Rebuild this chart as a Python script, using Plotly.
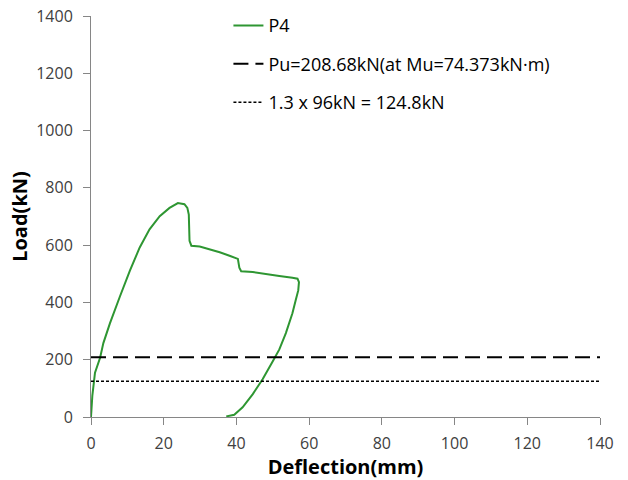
import plotly.graph_objects as go

# P4 load-deflection curve
p4_deflection = [0, 0.37, 1.1, 2.5, 3.4, 5.2, 7.9, 10.7, 13.4, 16.1, 18.9, 21.6, 23.9, 25.7,
                 26.5, 26.9, 27.1, 27.6, 29.9, 32.6, 35.4, 38.1, 40.4, 40.8, 41.3, 44.5, 48.1,
                 51.8, 55.4, 56.8, 57.2, 57.0, 56.3, 55.4, 53.6, 51.8, 50.0, 47.2, 44.5, 41.7,
                 39.4, 37.2]
p4_load = [0, 75, 155, 207, 258, 327, 419, 511, 592, 655, 701, 730, 747, 743,
           730, 707, 615, 598, 595, 586, 575, 563, 552, 521, 509, 506, 498,
           492, 486, 483, 471, 442, 408, 362, 293, 236, 195, 132, 80, 34,
           8, 2]

ref_x = [0, 140]
pu_value = 208.68
design_value = 124.8

series_names = ["P4", "Pu=208.68kN(at Mu=74.373kN·m)", "1.3 x 96kN = 124.8kN"]

x_ticks = [0, 20, 40, 60, 80, 100, 120, 140]
y_ticks = [0, 200, 400, 600, 800, 1000, 1200, 1400]

font_family = "Open Sans, Liberation Sans, sans-serif"

fig = go.Figure()
fig.add_trace(go.Scatter(x=p4_deflection, y=p4_load, mode="lines", name=series_names[0],
                         line=dict(color="#2E9632", width=2), legendgroup="a"))
fig.add_trace(go.Scatter(x=ref_x, y=[pu_value, pu_value], mode="lines", name=series_names[1],
                         line=dict(color="black", width=2, dash="15px,7px"), legendgroup="b"))
fig.add_trace(go.Scatter(x=ref_x, y=[design_value, design_value], mode="lines", name=series_names[2],
                         line=dict(color="black", width=1.6, dash="3px,2px"), legendgroup="c"))

axis_common = dict(showline=True, linecolor="#868686", linewidth=1, ticks="outside",
                   ticklen=7, tickcolor="#868686", showgrid=False, zeroline=False,
                   automargin=False, ticklabeloverflow="allow",
                   tickfont=dict(size=16, color="#404040", family=font_family))

fig.update_xaxes(range=[0, 140], tickvals=x_ticks, ticktext=[str(v) for v in x_ticks],
                 ticklabelstandoff=5,
                 title=dict(text="<b>Deflection(mm)</b>", font=dict(size=20, color="black", family=font_family),
                            standoff=6),
                 **axis_common)
fig.update_yaxes(range=[0, 1400], tickvals=y_ticks, ticktext=[str(v) for v in y_ticks],
                 ticklabelstandoff=7,
                 title=dict(text="<b>Load(kN)</b>", font=dict(size=20, color="black", family=font_family),
                            standoff=3),
                 **axis_common)

fig.update_layout(
    width=628, height=480,
    margin=dict(l=91, r=28, t=16, b=63, autoexpand=False),
    paper_bgcolor="white", plot_bgcolor="white",
    font=dict(family=font_family),
    legend=dict(x=0.27, y=1.022, xanchor="left", yanchor="top",
                font=dict(size=18, color="black", family=font_family),
                bgcolor="rgba(0,0,0,0)", tracegroupgap=12, itemwidth=30),
)

# remove the default 8px page margin so the figure fills the window exactly
fig.write_html("out.html", config={"displayModeBar": False},
               post_script="document.body.style.margin='0';")
